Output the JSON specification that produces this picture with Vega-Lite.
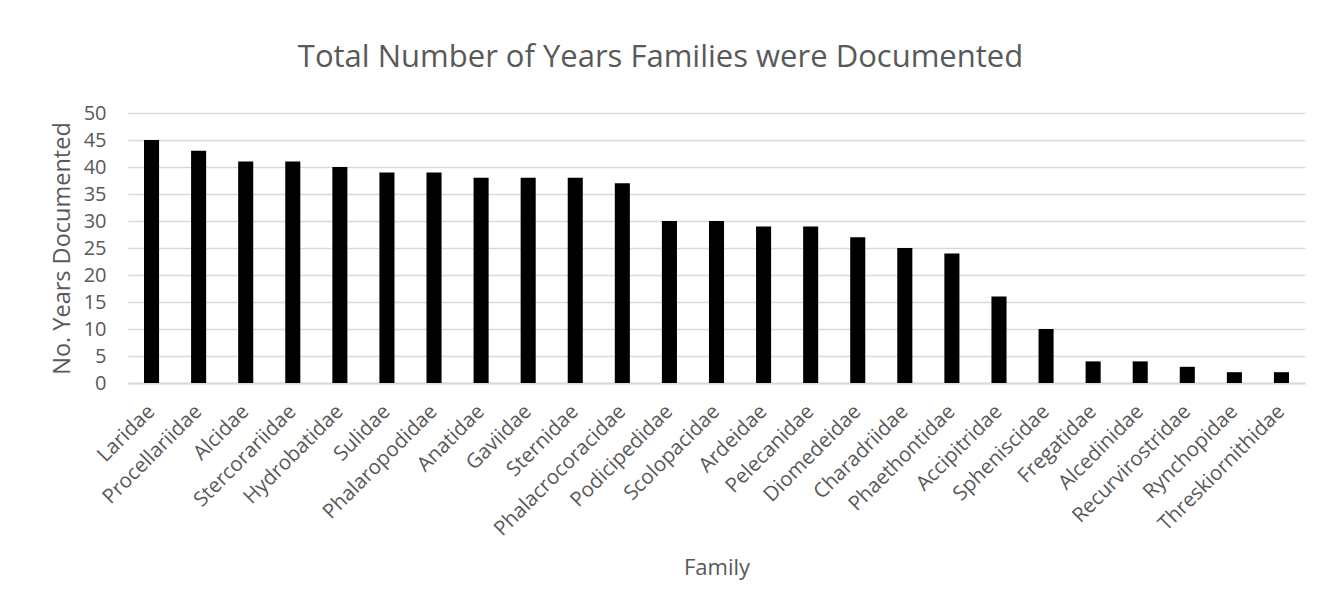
{
  "$schema": "https://vega.github.io/schema/vega-lite/v6.json",
  "autosize": "none",
  "width": 1177,
  "height": 270,
  "padding": {"left": 128, "top": 113, "right": 16, "bottom": 231},
  "background": "white",
  "title": {
    "text": "Total Number of Years Families were Documented",
    "font": "Open Sans",
    "fontSize": 31,
    "fontWeight": "normal",
    "color": "#595959",
    "anchor": "middle",
    "offset": 29,
    "dx": -56
  },
  "data": {
    "values": [
      {"family": "Laridae", "years": 45},
      {"family": "Procellariidae", "years": 43},
      {"family": "Alcidae", "years": 41},
      {"family": "Stercorariidae", "years": 41},
      {"family": "Hydrobatidae", "years": 40},
      {"family": "Sulidae", "years": 39},
      {"family": "Phalaropodidae", "years": 39},
      {"family": "Anatidae", "years": 38},
      {"family": "Gaviidae", "years": 38},
      {"family": "Sternidae", "years": 38},
      {"family": "Phalacrocoracidae", "years": 37},
      {"family": "Podicipedidae", "years": 30},
      {"family": "Scolopacidae", "years": 30},
      {"family": "Ardeidae", "years": 29},
      {"family": "Pelecanidae", "years": 29},
      {"family": "Diomedeidae", "years": 27},
      {"family": "Charadriidae", "years": 25},
      {"family": "Phaethontidae", "years": 24},
      {"family": "Accipitridae", "years": 16},
      {"family": "Spheniscidae", "years": 10},
      {"family": "Fregatidae", "years": 4},
      {"family": "Alcedinidae", "years": 4},
      {"family": "Recurvirostridae", "years": 3},
      {"family": "Rynchopidae", "years": 2},
      {"family": "Threskiornithidae", "years": 2}
    ]
  },
  "mark": {"type": "bar", "color": "black"},
  "encoding": {
    "x": {
      "field": "family",
      "type": "nominal",
      "sort": null,
      "scale": {"paddingInner": 0.68, "paddingOuter": 0.34},
      "axis": {
        "title": "Family",
        "labelAngle": -45,
        "labelAlign": "right",
        "labelBaseline": "middle",
        "labelPadding": 25,
        "labelFont": "Open Sans",
        "labelFontSize": 20.5,
        "labelColor": "#595959",
        "titleFont": "Open Sans",
        "titleFontSize": 22,
        "titleFontWeight": "normal",
        "titleColor": "#595959",
        "titlePadding": 18,
        "ticks": false,
        "domainColor": "#d9d9d9",
        "domainWidth": 2,
        "grid": false
      }
    },
    "y": {
      "field": "years",
      "type": "quantitative",
      "scale": {"domain": [0, 50], "nice": false},
      "axis": {
        "title": "No. Years Documented",
        "values": [0, 5, 10, 15, 20, 25, 30, 35, 40, 45, 50],
        "labelFont": "Open Sans",
        "labelFontSize": 20,
        "labelColor": "#595959",
        "labelPadding": 22,
        "titleFont": "Open Sans",
        "titleFontSize": 23.5,
        "titleFontWeight": "normal",
        "titleColor": "#595959",
        "titlePadding": 9,
        "ticks": false,
        "domain": false,
        "grid": true,
        "gridColor": "#d9d9d9",
        "gridWidth": 1.5
      }
    }
  },
  "config": {"view": {"stroke": null}}
}
